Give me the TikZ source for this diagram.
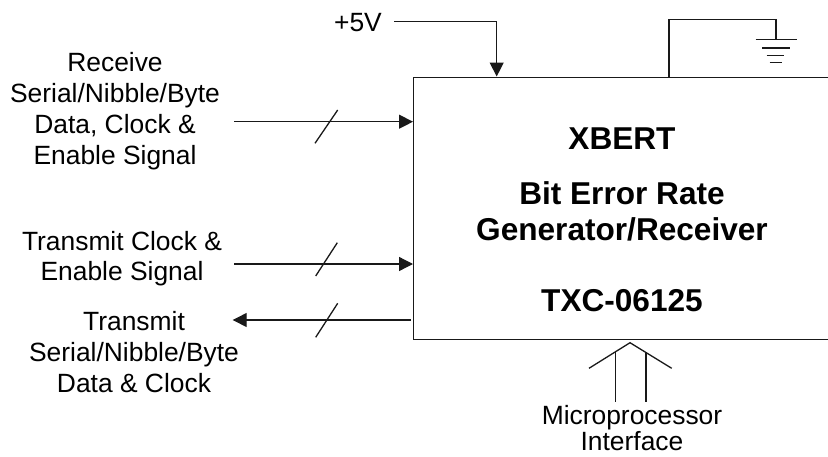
\documentclass[tikz,border=0pt]{standalone}
\usepackage{fontspec}
\setmainfont{Liberation Sans}
\usetikzlibrary{arrows.meta}
\begin{document}
\begin{tikzpicture}[x=1pt,y=-1pt,
  wire/.style={line width=1.3pt, draw=black!90},
  arr/.style={wire, -{Triangle[length=14pt,width=14pt]}},
  lbl/.style={inner sep=0pt, align=center},
  ttl/.style={inner sep=0pt, anchor=base, font=\fontsize{31.6}{36}\selectfont\bfseries}]
\useasboundingbox (0,0) rectangle (828,456);
% main box
\begin{scope}
\clip (0,0) rectangle (828,456);
\node[wire, draw, rectangle, inner sep=0pt, minimum width=418pt, minimum height=262.5pt, anchor=north west] (box) at (413,76.5) {};
\end{scope}
% box texts
\node[ttl] (t1) at (622,149) {XBERT};
\node[ttl] (t2) at (622,204) {Bit Error Rate};
\node[ttl] (t3) at (622,240) {Generator/Receiver};
\node[ttl] (t4) at (622,311) {TXC-06125};
% +5V
\node[inner sep=0pt, anchor=base east, font=\fontsize{26.4}{31}\selectfont] (v5) at (382,31.7) {+5V};
\coordinate (v5a) at (394,21.7);
\coordinate (v5b) at (496.7,21.7);
\draw[arr] (v5a) -- (v5b) -- (v5b |- box.north);
% ground
\coordinate (g0) at (669,19.3);
\coordinate (g1) at (776,19.3);
\coordinate (g2) at (776,39.5);
\draw[wire] (g0 |- box.north) -- (g0) -- (g1) -- (g2);
\draw[wire] (755.5,39.5) -- (796.5,39.5);
\draw[wire] (762,48) -- (790,48);
\draw[wire] (766.5,55.7) -- (783.5,55.7);
\draw[wire] (769.5,62.7) -- (781.5,62.7);
% left labels
\node[lbl, font=\fontsize{26.4}{31}\selectfont] (rx) at (115,111.5) {Receive\\Serial/Nibble/Byte\\Data, Clock \&\\Enable Signal};
\node[lbl, font=\fontsize{26.4}{30}\selectfont] (tc) at (122,259) {Transmit Clock \&\\Enable Signal};
\node[lbl, font=\fontsize{26.4}{31}\selectfont] (tx) at (134,352) {Transmit\\Serial/Nibble/Byte\\Data \& Clock};
% left arrows
\coordinate (rxs) at (234,121.7);
\draw[arr] (rxs) -- (rxs -| box.west);
\draw[wire] (315,143.3) -- (337.7,110);
\coordinate (tcs) at (234,264);
\draw[arr] (tcs) -- (tcs -| box.west);
\draw[wire] (315.7,276) -- (337.3,242.7);
\coordinate (txs) at (410.7,320);
\coordinate (txe) at (232.7,320);
\draw[arr] (txs) -- (txe);
\draw[wire] (315.7,337.3) -- (337.7,303.3);
% microprocessor interface
\coordinate (apex) at (630,342.7);
\draw[wire] (589,368.3) -- (apex) -- (671.7,368.3);
\draw[wire] (615.7,351.6) -- (615.7,401.7);
\draw[wire] (646,352.5) -- (646,401.7);
\node[lbl, font=\fontsize{26.4}{26}\selectfont] (mp) at (632,428) {Microprocessor\\Interface};
\end{tikzpicture}
\end{document}
